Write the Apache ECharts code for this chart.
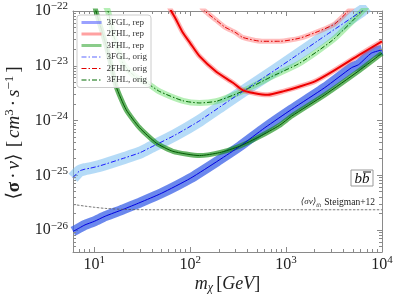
<!DOCTYPE html>
<html><head><meta charset="utf-8">
<script src="https://cdn.jsdelivr.net/npm/echarts@6/dist/echarts.min.js"></script>
<style>html,body{margin:0;padding:0;background:#fff}#c{width:400px;height:300px}</style>
</head><body><div id="c"></div>
<script>
// ---- data (m_chi in GeV, <sigma v> in cm^3 s^-1) ----
const mass_3FGL_rep = [6, 7, 8, 10, 13, 20, 30, 50, 100, 200, 330, 600, 1140, 2530, 4800, 5700, 7740, 10000];
const sv_3FGL_rep   = [9.5e-27, 1.1e-26, 1.25e-26, 1.45e-26, 1.8e-26, 2.4e-26, 3.2e-26, 4.7e-26, 8.8e-26, 1.9e-25, 3.4e-25, 7.4e-25, 1.6e-24, 4.0e-24, 9.2e-24, 1.05e-23, 1.7e-23, 1.95e-23];

const mass_3FGL_orig = [6, 7, 8, 9, 11.5, 21, 30, 38, 69, 126, 230, 371, 763, 1390, 2530, 6140, 7000];
const sv_3FGL_orig   = [9.1e-26, 1.2e-25, 1.3e-25, 1.35e-25, 1.5e-25, 2.1e-25, 2.6e-25, 3.2e-25, 5.4e-25, 1.0e-24, 2.05e-24, 3.6e-24, 8.3e-24, 1.7e-23, 3.5e-23, 1.0e-22, 1.2e-22];

const mass_2FHL_rep = [60, 63.4, 70, 84, 100, 125, 187, 279, 352, 470, 644, 950, 1390, 2000, 3060, 5860, 10000];
const sv_2FHL_rep   = [1.25e-22, 1.0e-22, 7.4e-23, 4.0e-23, 2.6e-23, 1.5e-23, 7.8e-24, 4.9e-24, 3.6e-24, 3.15e-24, 2.95e-24, 3.45e-24, 4.2e-24, 5.2e-24, 7.9e-24, 1.6e-23, 2.8e-23];

const mass_2FHL_orig = [130, 146, 185, 230, 300, 352, 558, 860, 1390, 2245, 3210, 4390, 5000];
const sv_2FHL_orig   = [1.18e-22, 9.6e-23, 6.9e-23, 5.1e-23, 4.0e-23, 3.3e-23, 2.8e-23, 2.8e-23, 3.2e-23, 4.35e-23, 5.8e-23, 9.7e-23, 1.2e-22];

const mass_3FHL_rep = [10, 10.4, 12.8, 14.5, 16.9, 21.5, 29.7, 44.3, 66, 125, 202, 327, 528, 853, 1137, 2530, 5620, 10000];
const sv_3FHL_rep   = [1.4e-22, 1.0e-22, 2.95e-23, 1.3e-23, 4.2e-24, 1.58e-24, 7.4e-25, 3.9e-25, 2.75e-25, 2.3e-25, 2.6e-25, 3.4e-25, 5.1e-25, 8.2e-25, 1.2e-24, 2.95e-24, 7.9e-24, 1.7e-23];

const mass_3FHL_orig = [13, 13.9, 16, 18, 20, 25, 30, 37, 48, 84, 125, 187, 279, 372, 700, 1390, 3060, 6140, 7000];
const sv_3FHL_orig   = [1.3e-22, 1.0e-22, 3.5e-23, 1.8e-23, 1.1e-23, 7.0e-24, 5.6e-24, 4.6e-24, 3.4e-24, 2.3e-24, 2.1e-24, 2.25e-24, 2.9e-24, 3.6e-24, 6.3e-24, 1.12e-23, 2.95e-23, 9.7e-23, 1.2e-22];

const mass_thermal = [6, 8, 10, 13, 20, 40, 100, 1000, 10000];
const sv_thermal   = [2.95e-26, 2.75e-26, 2.62e-26, 2.5e-26, 2.4e-26, 2.36e-26, 2.36e-26, 2.36e-26, 2.36e-26];

const xMinorTicks = [7, 8, 9, 20, 30, 40, 50, 60, 70, 80, 90, 200, 300, 400, 500, 600, 700, 800, 900, 2000, 3000, 4000, 5000, 6000, 7000, 8000, 9000];
const yMinorTicks = [5e-27, 6e-27, 7e-27, 8e-27, 9e-27, 2e-26, 3e-26, 4e-26, 5e-26, 6e-26, 7e-26, 8e-26, 9e-26, 2e-25, 3e-25, 4e-25, 5e-25, 6e-25, 7e-25, 8e-25, 9e-25, 2e-24, 3e-24, 4e-24, 5e-24, 6e-24, 7e-24, 8e-24, 9e-24, 2e-23, 3e-23, 4e-23, 5e-23, 6e-23, 7e-23, 8e-23, 9e-23];

// The y axis works in units of 1e-26 cm^3/s (avoids float rounding of tiny tick values)
const SV_EXP = -26, SV_UNIT = 1e-26;
const X_MIN = 6, X_MAX = 10000, Y_MIN = 4e-27 / SV_UNIT, Y_MAX = 1e-22 / SV_UNIT;

const zip = (a, b) => a.map((v, i) => [v, b[i] / SV_UNIT]);
const SERIF = '"Liberation Serif","DejaVu Serif",serif';
const GRAY = '#8a8a8a';
const DASHDOT = [5, 2, 1.5, 2];

function band(name, m, s, color, width) {
  return { name: name, type: 'line', data: zip(m, s), showSymbol: false, symbol: 'none', silent: true,
    smooth: 0.2, lineStyle: { color: color, width: width, cap: 'butt', join: 'round' }, z: 2 };
}
function center(name, m, s, color, width, type) {
  return { name: name, type: 'line', data: zip(m, s), showSymbol: false, symbol: 'none', silent: true,
    smooth: 0.2, lineStyle: { color: color, width: width, type: type }, z: 3 };
}

function expText(e) { return '{b|10}{s|' + (e < 0 ? '\u2212' + (-e) : e) + '}'; }
const xLabel = v => expText(Math.round(Math.log10(v)));
const yLabel = v => expText(Math.round(Math.log10(v)) + SV_EXP);
const labelRich = {
  b: { fontFamily: SERIF, fontSize: 16, lineHeight: 20, color: '#222' },
  s: { fontFamily: SERIF, fontSize: 11, lineHeight: 11, verticalAlign: 'top', color: '#222' }
};

function minorX() {
  return { type: 'custom', silent: true, clip: false, z: 5, data: xMinorTicks.map(v => [v, Y_MIN]),
    renderItem: function (params, api) {
      const cs = params.coordSys;
      const x = Math.floor(api.coord([api.value(0), Y_MIN])[0]) + 0.5;
      return { type: 'group', children: [
        { type: 'line', shape: { x1: x, y1: cs.y + cs.height, x2: x, y2: cs.y + cs.height - 3 }, style: { stroke: GRAY, lineWidth: 1 } },
        { type: 'line', shape: { x1: x, y1: cs.y, x2: x, y2: cs.y + 3 }, style: { stroke: GRAY, lineWidth: 1 } }
      ] };
    } };
}
function minorY() {
  return { type: 'custom', silent: true, clip: false, z: 5, data: yMinorTicks.map(v => [X_MIN, v / SV_UNIT]),
    renderItem: function (params, api) {
      const cs = params.coordSys;
      const y = Math.floor(api.coord([X_MIN, api.value(1)])[1]) + 0.5;
      return { type: 'group', children: [
        { type: 'line', shape: { x1: cs.x, y1: y, x2: cs.x + 3, y2: y }, style: { stroke: GRAY, lineWidth: 1 } },
        { type: 'line', shape: { x1: cs.x + cs.width, y1: y, x2: cs.x + cs.width - 3, y2: y }, style: { stroke: GRAY, lineWidth: 1 } }
      ] };
    } };
}

const chart = echarts.init(document.getElementById('c'), null, { renderer: 'canvas' });
const axisCommon = {
  type: 'log', logBase: 10, splitLine: { show: false },
  axisLine: { show: true, lineStyle: { color: GRAY, width: 1 } },
  axisTick: { show: true, inside: true, length: 5, lineStyle: { color: GRAY } },
  minorTick: { show: false }, nameMoveOverlap: false
};
chart.setOption({
  animation: false,
  backgroundColor: '#fff',
  grid: { left: 73, right: 18, top: 11, bottom: 48, containLabel: false, outerBoundsMode: 'none' },
  xAxis: [
    Object.assign({}, axisCommon, { min: X_MIN, max: X_MAX, position: 'bottom',
      axisLabel: { showMinLabel: false, showMaxLabel: true, hideOverlap: false, margin: 3, formatter: xLabel, rich: labelRich },
      name: '{it|m}{sub|\u03c7} {t|[}{it|GeV}{t|]}', nameLocation: 'middle', nameGap: 22,
      nameTextStyle: { rich: {
        it: { fontFamily: SERIF, fontStyle: 'italic', fontSize: 18, lineHeight: 20, color: '#222' },
        t: { fontFamily: SERIF, fontSize: 18, lineHeight: 20, color: '#222' },
        sub: { fontFamily: SERIF, fontStyle: 'italic', fontSize: 12, lineHeight: 12, verticalAlign: 'bottom', color: '#222' }
      } } }),
    Object.assign({}, axisCommon, { min: X_MIN, max: X_MAX, position: 'top', axisLabel: { show: false } })
  ],
  yAxis: [
    Object.assign({}, axisCommon, { min: Y_MIN, max: Y_MAX, position: 'left',
      axisLabel: { showMinLabel: false, showMaxLabel: true, hideOverlap: false, margin: 5, formatter: yLabel, rich: labelRich },
      name: '{br|\u27e8}{sg|\u03c3}{t|\u00b7}{it|v}{br|\u27e9} {t|[}{it|cm}{sup|3}{t|\u00b7}{it|s}{sup|\u22121}{t|]}',
      nameLocation: 'middle', nameGap: 48, nameRotate: 90,
      nameTextStyle: { rich: {
        br: { fontFamily: SERIF, fontSize: 19, lineHeight: 22, color: '#222' },
        sg: { fontFamily: SERIF, fontSize: 19, fontWeight: 'bold', lineHeight: 22, color: '#222' },
        it: { fontFamily: SERIF, fontStyle: 'italic', fontSize: 19, lineHeight: 22, color: '#222' },
        t: { fontFamily: SERIF, fontSize: 19, lineHeight: 22, color: '#222', padding: [0, 3, 0, 3] },
        sup: { fontFamily: SERIF, fontSize: 13, lineHeight: 13, verticalAlign: 'top', color: '#222' }
      } } }),
    Object.assign({}, axisCommon, { min: Y_MIN, max: Y_MAX, position: 'right', axisLabel: { show: false } })
  ],
  legend: {
    data: [
      { name: '3FGL, rep', lineStyle: { color: 'rgba(100,110,255,0.65)', width: 3, type: 'solid' } },
      { name: '2FHL, rep', lineStyle: { color: 'rgba(255,110,110,0.65)', width: 3, type: 'solid' } },
      { name: '3FHL, rep', lineStyle: { color: 'rgba(60,170,60,0.6)', width: 3, type: 'solid' } },
      { name: '3FGL, orig', lineStyle: { color: 'rgba(100,110,255,0.7)', width: 1.5, type: DASHDOT } },
      { name: '2FHL, orig', lineStyle: { color: '#e00000', width: 1, type: DASHDOT } },
      { name: '3FHL, orig', lineStyle: { color: '#006a00', width: 1, type: DASHDOT } }
    ],
    orient: 'vertical', left: 77, top: 15, itemWidth: 20, itemHeight: 9, itemGap: 2.5,
    padding: [3, 4, 3, 3], backgroundColor: 'rgba(255,255,255,0.85)', borderColor: '#cccccc', borderWidth: 1, borderRadius: 3,
    textStyle: { fontFamily: SERIF, fontSize: 9, color: '#333' },
    itemStyle: { opacity: 0 }, selectedMode: false
  },
  graphic: [
    { type: 'rect', shape: { x: 351, y: 170, width: 22, height: 16 }, style: { fill: '#fff', stroke: '#999', lineWidth: 1 }, z: 10 },
    { type: 'text', x: 362, y: 179, style: { text: 'bb', font: 'italic 15px "Liberation Serif"', align: 'center', verticalAlign: 'middle', fill: '#111' }, z: 11 },
    { type: 'line', shape: { x1: 363, y1: 172, x2: 371, y2: 172 }, style: { stroke: '#111', lineWidth: 1 }, z: 11 },
    { type: 'text', x: 375, y: 202, style: { text: '{a|\u27e8\u03c3v\u27e9}{s|th} {c|Steigman+12}', align: 'right', verticalAlign: 'middle',
      rich: { a: { fontFamily: SERIF, fontStyle: 'italic', fontSize: 9, lineHeight: 12, fill: '#222' },
              s: { fontFamily: SERIF, fontStyle: 'italic', fontSize: 6, lineHeight: 6, verticalAlign: 'bottom', fill: '#222' },
              c: { fontFamily: SERIF, fontSize: 9.5, lineHeight: 12, fill: '#222' } } }, z: 11 }
  ],
  series: [
    band('b3fglo', mass_3FGL_orig, sv_3FGL_orig, 'rgba(120,190,240,0.55)', 12),
    band('b3fhlo', mass_3FHL_orig, sv_3FHL_orig, 'rgba(90,220,90,0.45)', 6),
    band('b2fhlo', mass_2FHL_orig, sv_2FHL_orig, 'rgba(255,90,90,0.4)', 5),
    band('b3fglr', mass_3FGL_rep, sv_3FGL_rep, 'rgba(50,90,230,0.72)', 10),
    band('b3fhlr', mass_3FHL_rep, sv_3FHL_rep, 'rgba(20,140,20,0.65)', 5),
    band('b2fhlr', mass_2FHL_rep, sv_2FHL_rep, 'rgba(255,60,60,0.4)', 5),
    center('3FGL, orig', mass_3FGL_orig, sv_3FGL_orig, '#1a1aff', 1, DASHDOT),
    center('3FHL, orig', mass_3FHL_orig, sv_3FHL_orig, '#006a00', 1, DASHDOT),
    center('2FHL, orig', mass_2FHL_orig, sv_2FHL_orig, '#e00000', 1, DASHDOT),
    center('3FGL, rep', mass_3FGL_rep, sv_3FGL_rep, '#0000e0', 1, 'solid'),
    center('3FHL, rep', mass_3FHL_rep, sv_3FHL_rep, '#005a00', 1, 'solid'),
    center('2FHL, rep', mass_2FHL_rep, sv_2FHL_rep, '#ee0000', 2, 'solid'),
    { name: 'thermal', type: 'line', data: zip(mass_thermal, sv_thermal), showSymbol: false, symbol: 'none', silent: true,
      smooth: 0.3, lineStyle: { color: '#555', width: 0.8, type: [2.5, 1.5] }, z: 3 },
    minorX(), minorY()
  ]
});
</script></body></html>
